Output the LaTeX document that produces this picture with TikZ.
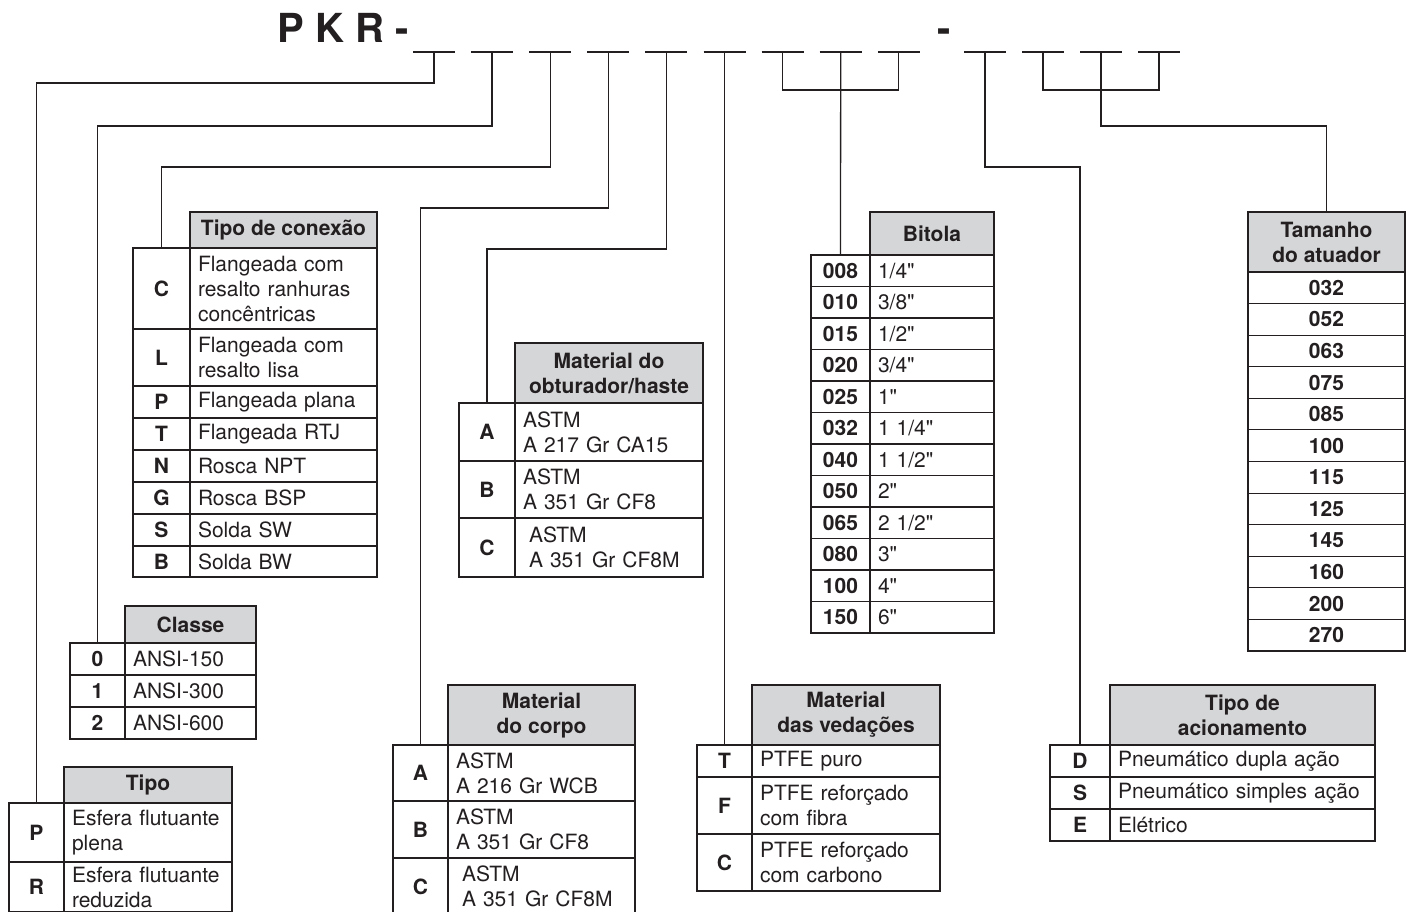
\documentclass[tikz,border=0pt]{standalone}
\usepackage{fontspec}
\setmainfont{TeX Gyre Heros}[Ligatures=TeXOff]
\usetikzlibrary{calc}
\definecolor{hdrgray}{RGB}{213,214,216}
\definecolor{ink}{RGB}{35,31,32}
\newcommand\rsCell{\fontsize{21}{25}\selectfont}
\newcommand\rsTitle{\fontsize{40}{48}\selectfont\bfseries}
\tikzset{
  conn/.style={draw=ink, line width=1.3pt},
  codeseg/.style={draw=ink, line width=2.2pt},
  cellbase/.style={draw=ink, line width=1.1pt, inner sep=0pt, outer sep=0pt, text=ink},
  keycell/.style={cellbase, font=\rsCell\bfseries, align=center},
  valcell/.style={cellbase, font=\rsCell, align=left, inner xsep=8pt},
  sizecell/.style={cellbase, font=\rsCell\bfseries, align=center},
  hdrcell/.style={draw=ink, line width=2.4pt, fill=hdrgray, inner sep=0pt, outer sep=0pt, font=\rsCell\bfseries, align=center, text=ink},
  frame/.style={draw=ink, line width=2.4pt},
  titletext/.style={font=\rsTitle, inner sep=0pt, text=ink}
}
% row with key and value: name, x0, xk, x1, y0, y1, key, value
\newcommand\rsrow[8]{%
  \pgfmathsetmacro\rsKW{#3-#2}%
  \pgfmathsetmacro\rsVW{#4-#3-16}%
  \pgfmathsetmacro\rsRH{#6-#5}%
  \node[keycell, minimum width=\rsKW pt, minimum height=\rsRH pt] (#1k) at ({(#2+#3)/2},{(#5+#6)/2}) {#7};
  \node[valcell, text width=\rsVW pt, minimum height=\rsRH pt] (#1v) at ({(#3+#4)/2},{(#5+#6)/2}) {#8};
}
% header: name, x0, x1, y0, y1, text
\newcommand\rshdr[6]{%
  \pgfmathsetmacro\rsHW{#3-#2}%
  \pgfmathsetmacro\rsHH{#5-#4}%
  \node[hdrcell, minimum width=\rsHW pt, minimum height=\rsHH pt] (#1) at ({(#2+#3)/2},{(#4+#5)/2}) {#6};
}
% single column row: name, x0, x1, y0, y1, text
\newcommand\rssize[6]{%
  \pgfmathsetmacro\rsHW{#3-#2}%
  \pgfmathsetmacro\rsHH{#5-#4}%
  \node[sizecell, minimum width=\rsHW pt, minimum height=\rsHH pt] (#1) at ({(#2+#3)/2},{(#4+#5)/2}) {#6};
}
\begin{document}
\begin{tikzpicture}[x=1pt,y=-1pt]
\useasboundingbox (0,0) rectangle (1406,911);
\fill[white] (0,0) rectangle (1406,911);
\clip (0,0) rectangle (1406,911);

% ---------- title ----------
\node[titletext, anchor=base west] (pkr) at (277,42) {P K R -};
\node[titletext, anchor=base west] (sep) at (937,42) {-};

% ---------- code positions ----------
\foreach \i/\x in {1/434,2/492.1,3/550.2,4/608.3,5/666.4,6/724.5,7/782.6,8/840.7,9/898.8,10/985,11/1043,12/1101,13/1159}{
  \coordinate (d\i) at (\x,52);
  \draw[codeseg] ($(d\i)+(-21,0)$) -- ($(d\i)+(21,0)$);
}

% ---------- Tipo ----------
\rsrow{tipoP}{9}{64}{232}{803}{862}{P}{Esfera flutuante\\plena}
\rsrow{tipoR}{9}{64}{232}{862}{912}{R}{Esfera flutuante\\reduzida}
\draw[frame] (tipoPk.north west) rectangle (tipoRv.south east);
\rshdr{tipoH}{64}{232}{767}{803}{Tipo}

% ---------- Classe ----------
\rsrow{cl0}{70}{125}{256}{643}{675}{0}{ANSI-150}
\rsrow{cl1}{70}{125}{256}{675}{707}{1}{ANSI-300}
\rsrow{cl2}{70}{125}{256}{707}{739}{2}{ANSI-600}
\draw[frame] (cl0k.north west) rectangle (cl2v.south east);
\rshdr{clH}{125}{256}{606}{643}{Classe}

% ---------- Tipo de conexao ----------
\rsrow{cxC}{133}{190}{377}{248}{329}{C}{Flangeada com\\resalto ranhuras\\concêntricas}
\rsrow{cxL}{133}{190}{377}{329}{386}{L}{Flangeada com\\resalto lisa}
\rsrow{cxP}{133}{190}{377}{386}{418}{P}{Flangeada plana}
\rsrow{cxT}{133}{190}{377}{418}{450}{T}{Flangeada RTJ}
\rsrow{cxN}{133}{190}{377}{450}{482}{N}{Rosca NPT}
\rsrow{cxG}{133}{190}{377}{482}{514}{G}{Rosca BSP}
\rsrow{cxS}{133}{190}{377}{514}{546}{S}{Solda SW}
\rsrow{cxB}{133}{190}{377}{546}{577}{B}{Solda BW}
\draw[frame] (cxCk.north west) rectangle (cxBv.south east);
\rshdr{cxH}{190}{377}{212}{248}{Tipo de conexão}

% ---------- Material do obturador/haste ----------
\rsrow{obA}{459}{515}{703}{403}{461}{A}{ASTM\\A 217 Gr CA15}
\rsrow{obB}{459}{515}{703}{461}{518}{B}{ASTM\\A 351 Gr CF8}
\rsrow{obC}{459}{515}{703}{518}{577}{C}{\hspace*{6pt}ASTM\\\hspace*{6pt}A 351 Gr CF8M}
\draw[frame] (obAk.north west) rectangle (obCv.south east);
\rshdr{obH}{515}{703}{343}{403}{Material do\\obturador/haste}

% ---------- Material do corpo ----------
\rsrow{coA}{393}{448}{635}{745}{801}{A}{ASTM\\A 216 Gr WCB}
\rsrow{coB}{393}{448}{635}{801}{858}{B}{ASTM\\A 351 Gr CF8}
\rsrow{coC}{393}{448}{635}{858}{915}{C}{\hspace*{6pt}ASTM\\\hspace*{6pt}A 351 Gr CF8M}
\draw[frame] (coAk.north west) rectangle (coCv.south east);
\rshdr{coH}{448}{635}{685}{745}{Material\\do corpo}

% ---------- Material das vedacoes ----------
\rsrow{veT}{697}{752}{940}{745}{777}{T}{PTFE puro}
\rsrow{veF}{697}{752}{940}{777}{834}{F}{PTFE reforçado\\com fibra}
\rsrow{veC}{697}{752}{940}{834}{891}{C}{PTFE reforçado\\com carbono}
\draw[frame] (veTk.north west) rectangle (veCv.south east);
\rshdr{veH}{752}{940}{685}{745}{Material\\das vedações}

% ---------- Bitola ----------
\rsrow{biA}{811}{870}{994}{255}{286.5}{008}{1/4"}
\rsrow{biB}{811}{870}{994}{286.5}{318}{010}{3/8"}
\rsrow{biC}{811}{870}{994}{318}{349.5}{015}{1/2"}
\rsrow{biD}{811}{870}{994}{349.5}{381}{020}{3/4"}
\rsrow{biE}{811}{870}{994}{381}{412.5}{025}{1"}
\rsrow{biF}{811}{870}{994}{412.5}{444}{032}{1 1/4"}
\rsrow{biG}{811}{870}{994}{444}{475.5}{040}{1 1/2"}
\rsrow{biH}{811}{870}{994}{475.5}{507}{050}{2"}
\rsrow{biI}{811}{870}{994}{507}{538.5}{065}{2 1/2"}
\rsrow{biJ}{811}{870}{994}{538.5}{570}{080}{3"}
\rsrow{biK}{811}{870}{994}{570}{601.5}{100}{4"}
\rsrow{biL}{811}{870}{994}{601.5}{633}{150}{6"}
\draw[frame] (biAk.north west) rectangle (biLv.south east);
\rshdr{biH0}{870}{994}{212}{255}{Bitola}

% ---------- Tamanho do atuador ----------
\rssize{taA}{1248}{1405}{272}{303.6}{032}
\rssize{taB}{1248}{1405}{303.6}{335.2}{052}
\rssize{taC}{1248}{1405}{335.2}{366.7}{063}
\rssize{taD}{1248}{1405}{366.7}{398.3}{075}
\rssize{taE}{1248}{1405}{398.3}{429.9}{085}
\rssize{taF}{1248}{1405}{429.9}{461.5}{100}
\rssize{taG}{1248}{1405}{461.5}{493.1}{115}
\rssize{taH}{1248}{1405}{493.1}{524.7}{125}
\rssize{taI}{1248}{1405}{524.7}{556.2}{145}
\rssize{taJ}{1248}{1405}{556.2}{587.8}{160}
\rssize{taK}{1248}{1405}{587.8}{619.4}{200}
\rssize{taL}{1248}{1405}{619.4}{651}{270}
\draw[frame] (taA.north west) rectangle (taL.south east);
\rshdr{taH0}{1248}{1405}{212}{272}{Tamanho\\do atuador}

% ---------- Tipo de acionamento ----------
\rsrow{acD}{1050}{1110}{1375}{745}{777}{D}{Pneumático dupla ação}
\rsrow{acS}{1050}{1110}{1375}{777}{809}{S}{Pneumático simples ação}
\rsrow{acE}{1050}{1110}{1375}{809}{841}{E}{Elétrico}
\draw[frame] (acDk.north west) rectangle (acEv.south east);
\rshdr{acH}{1110}{1375}{685}{745}{Tipo de\\acionamento}

% ---------- connectors ----------
\draw[conn] (d1) -- (d1 |- 0,83) -| (tipoPk.north);
\draw[conn] (d2) -- (d2 |- 0,126) -| (cl0k.north);
\draw[conn] (d3) -- (d3 |- 0,167) -| (cxCk.north);
\draw[conn] (d4) -- (d4 |- 0,208) -| (coAk.north);
\draw[conn] (d5) -- (d5 |- 0,249) -| (obAk.north);
\draw[conn] (d6) -- (veTk.north);
\draw[conn] (d7) -- (d7 |- 0,90) -- (d9 |- 0,90) -- (d9);
\draw[conn] (d8) -- (biAk.north);
\draw[conn] (d10) -- (d10 |- 0,167) -| (acDk.north);
\draw[conn] (d11) -- (d11 |- 0,90) -- (d13 |- 0,90) -- (d13);
\draw[conn] (d12) -- (d12 |- 0,126) -| (taH0.north);
\end{tikzpicture}
\end{document}
